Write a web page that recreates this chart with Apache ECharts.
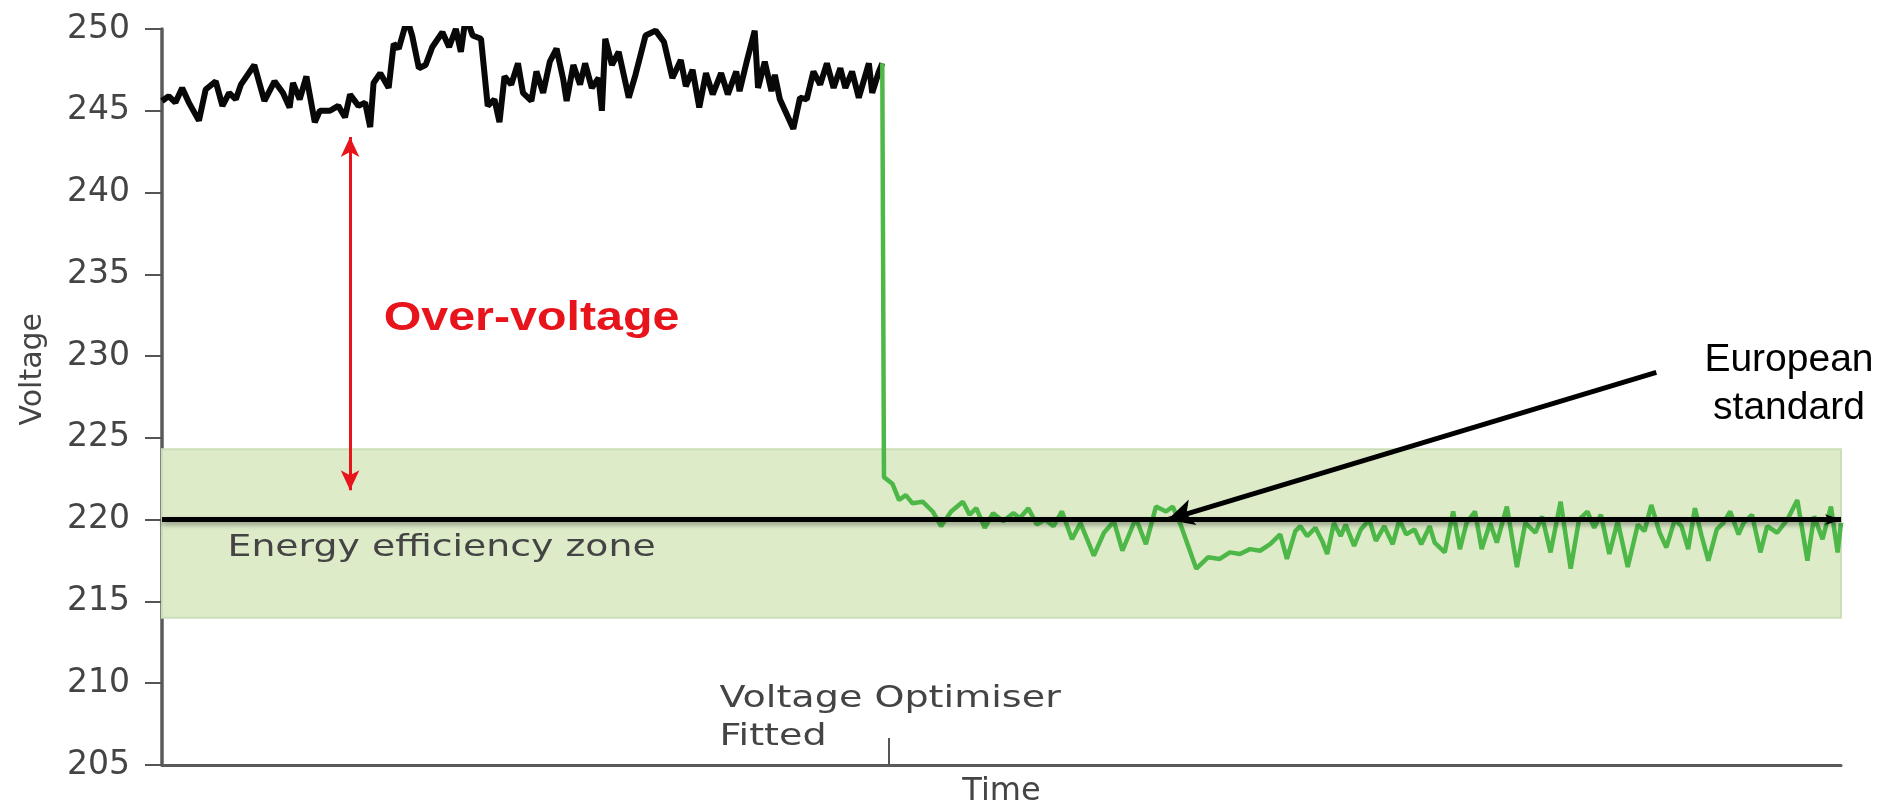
<!DOCTYPE html>
<html>
<head>
<meta charset="UTF-8">
<title>Voltage optimiser</title>
<script src="https://cdn.jsdelivr.net/npm/echarts@6/dist/echarts.min.js"></script>
<style>html,body{margin:0;padding:0;background:#fff;}</style>
</head>
<body>
<div id="main" style="width:1889px;height:803px;"></div>
<script type="text/javascript">
// time is just a 0..100 scale along the x axis (no labels in the original)
var beforeTime = [0, 0.4, 0.8, 1.2, 1.6, 2.2, 2.6, 3.2, 3.6, 4.0, 4.4, 4.7, 5.5, 6.1, 6.7, 7.2, 7.6, 7.8, 8.2, 8.6,
  9.1, 9.4, 10.0, 10.5, 10.9, 11.2, 11.7, 12.1, 12.4, 12.6, 13.0, 13.5, 13.8, 14.1, 14.6, 14.9, 15.3, 15.7, 16.1, 16.7,
  17.1, 17.5, 17.8, 18.1, 18.5, 19.0, 19.4, 19.8, 20.1, 20.4, 20.8, 21.2, 21.5, 22.0, 22.3, 22.7, 23.1, 23.5, 23.9, 24.1,
  24.5, 24.9, 25.2, 25.6, 26.0, 26.2, 26.4, 26.8, 27.2, 27.8, 28.2, 28.8, 29.4, 29.9, 30.4, 30.9, 31.2, 31.6, 32.0, 32.4,
  32.8, 33.3, 33.7, 34.2, 34.4, 34.8, 35.3, 35.5, 35.9, 36.3, 36.5, 36.8, 37.2, 37.6, 38.0, 38.4, 38.8, 39.2, 39.6, 40.0,
  40.4, 40.7, 41.1, 41.5, 42.1, 42.3, 42.7, 42.9];
var beforeVolt = [245.6, 245.9, 245.5, 246.4, 245.5, 244.4, 246.3, 246.8, 245.3, 246.1, 245.7, 246.6, 247.8, 245.6, 246.8, 246.1, 245.2, 246.7, 245.7, 247.1,
  244.3, 245.0, 245.0, 245.3, 244.6, 246.0, 245.3, 245.5, 244.0, 246.7, 247.3, 246.4, 249.1, 248.8, 250.6, 249.6, 247.6, 247.8, 248.9, 249.8,
  248.9, 250.0, 248.6, 250.8, 249.6, 249.4, 245.3, 245.7, 244.3, 247.1, 246.6, 247.9, 246.1, 245.6, 247.4, 246.1, 248.0, 248.8, 246.9, 245.6,
  247.8, 246.6, 247.9, 246.4, 247.0, 245.0, 249.4, 247.8, 248.6, 245.8, 247.2, 249.6, 249.9, 249.2, 247.0, 248.1, 246.5, 247.5, 245.2, 247.3,
  246.0, 247.3, 246.0, 247.4, 246.2, 247.9, 249.9, 246.4, 248.0, 246.2, 247.2, 245.7, 244.8, 243.9, 245.8, 245.7, 247.4, 246.6, 247.9, 246.4,
  247.6, 246.4, 247.4, 245.8, 247.9, 246.1, 247.4, 247.9];

var afterTime = [42.9, 43.0, 43.5, 43.9, 44.3, 44.7, 45.3, 45.9, 46.4, 47.0, 47.7, 48.1, 48.5, 49.0, 49.5, 50.1, 50.7, 51.1, 51.6, 52.1,
  52.6, 53.1, 53.6, 54.2, 54.7, 55.5, 56.1, 56.7, 57.2, 58.0, 58.6, 59.2, 59.8, 60.2, 60.7, 61.6, 62.3, 63.0, 63.6, 64.2,
  64.8, 65.4, 66.0, 66.6, 67.0, 67.5, 67.8, 68.2, 68.7, 69.1, 69.4, 69.8, 70.2, 70.5, 71.0, 71.4, 71.9, 72.3, 72.8, 73.3,
  73.7, 74.1, 74.6, 75.0, 75.5, 75.8, 76.4, 76.9, 77.3, 77.7, 78.2, 78.6, 79.1, 79.5, 80.1, 80.7, 81.2, 81.8, 82.2, 82.7,
  83.3, 83.9, 84.4, 84.9, 85.3, 85.7, 86.2, 86.7, 87.3, 87.9, 88.3, 88.7, 89.2, 89.6, 90.1, 90.5, 90.9, 91.3, 91.7, 92.1,
  92.6, 93.0, 93.4, 93.9, 94.2, 94.7, 95.2, 95.6, 96.2, 96.8, 97.4, 98.0, 98.4, 98.9, 99.4, 99.8, 100];
var afterVolt = [247.9, 222.6, 222.2, 221.2, 221.5, 221.0, 221.1, 220.5, 219.6, 220.5, 221.1, 220.3, 220.7, 219.5, 220.4, 219.9, 220.4, 220.1, 220.7, 219.7,
  220.0, 219.6, 220.5, 218.8, 219.8, 217.8, 219.2, 219.9, 218.1, 220.1, 218.5, 220.8, 220.5, 220.8, 219.6, 217.0, 217.7, 217.6, 218.0, 217.9,
  218.2, 218.1, 218.5, 219.1, 217.6, 219.3, 219.6, 219.0, 219.5, 218.7, 217.9, 219.8, 219.0, 219.7, 218.4, 219.4, 220.0, 218.7, 219.6, 218.5,
  220.0, 219.1, 219.4, 218.5, 219.6, 218.6, 218.0, 220.5, 218.2, 219.8, 220.5, 218.2, 219.8, 218.6, 220.8, 217.1, 219.8, 219.2, 220.2, 218.0,
  221.1, 217.0, 220.0, 220.5, 219.5, 220.3, 217.9, 219.9, 217.1, 219.7, 219.3, 220.9, 219.2, 218.3, 220.0, 219.6, 218.2, 220.7, 219.0, 217.5,
  219.4, 219.8, 220.5, 219.1, 219.8, 220.3, 218.0, 219.6, 219.2, 220.0, 221.2, 217.5, 220.2, 218.8, 220.8, 218.0, 219.8];

var zoneVolt = [214.0, 224.3];
var standardVolt = 220;
var fittedTime = [43.3];
var overArrow = [[11.2, 243.4], [11.2, 221.8]];
var standardArrow = [[89.0, 229.0], [59.9, 220.0]];

var myChart = echarts.init(document.getElementById('main'));

function pairs(xs, ys) {
  return xs.map(function (x, i) { return [x, ys[i]]; });
}

var option = {
  animation: false,
  backgroundColor: '#fff',
  grid: { left: 162, right: 48, top: 29, bottom: 38, outerBoundsMode: 'none', containLabel: false },
  xAxis: {
    type: 'value', min: 0, max: 100,
    name: 'Time', nameLocation: 'middle', nameGap: 11,
    nameTextStyle: { fontFamily: 'DejaVu Sans', fontSize: 32, color: '#444', verticalAlign: 'top' },
    axisLine: { show: true, lineStyle: { color: '#5a5a5a', width: 3 } },
    axisTick: { show: true, customValues: fittedTime, inside: true, length: 27, lineStyle: { color: '#555', width: 2 } },
    axisLabel: { show: false },
    splitLine: { show: false }
  },
  yAxis: {
    type: 'value', min: 205, max: 250, interval: 5,
    axisLine: { show: true, lineStyle: { color: '#5a5a5a', width: 3.5 } },
    axisTick: { show: true, length: 17, lineStyle: { color: '#555', width: 2 } },
    axisLabel: { margin: 32, fontFamily: 'DejaVu Sans', fontSize: 33, color: '#444' },
    splitLine: { show: false }
  },
  series: [
    {
      name: 'zone', type: 'line', data: [], z: 1, silent: true,
      markArea: {
        silent: true,
        itemStyle: { color: '#ddebc8', borderColor: '#cbdeb8', borderWidth: 2 },
        data: [[{ yAxis: zoneVolt[0] }, { yAxis: zoneVolt[1] }]]
      }
    },
    {
      name: 'Before', type: 'line', data: pairs(beforeTime, beforeVolt), z: 2,
      showSymbol: false, lineStyle: { color: '#080808', width: 6 }
    },
    {
      name: 'After', type: 'line', data: pairs(afterTime, afterVolt), z: 3,
      showSymbol: false, lineStyle: { color: '#4db848', width: 4.5 }
    },
    {
      name: 'standard', type: 'line', data: [], z: 5, silent: true,
      markLine: {
        silent: true, animation: false,
        label: { show: false },
        data: [
          { yAxis: standardVolt, symbol: 'none',
            lineStyle: { color: '#000', width: 5, type: 'solid', shadowColor: 'rgba(0,0,0,0.35)', shadowBlur: 5, shadowOffsetY: 3 } },
          [
            { coord: standardArrow[0], symbol: 'none', lineStyle: { color: '#000', width: 5, type: 'solid' } },
            { coord: standardArrow[1], symbol: 'arrow', symbolSize: [20, 26] }
          ]
        ]
      }
    },
    {
      name: 'over', type: 'line', data: [], z: 5, silent: true,
      markLine: {
        silent: true, animation: false,
        symbol: ['arrow', 'arrow'], symbolSize: [14, 20],
        label: { show: false },
        lineStyle: { color: '#e8141c', width: 3, type: 'solid' },
        data: [[{ coord: overArrow[0] }, { coord: overArrow[1] }]]
      }
    }
  ]
};
myChart.setOption(option);

function px(t, v) { return myChart.convertToPixel({ gridIndex: 0 }, [t, v]); }

var pZone = px(3.9, 218.3);
var pFit = px(33.2, 210.2);
var pOver = px(13.2, 232.3);
var pEu = px(96.9, 228.3);
var pVolt = px(0, 229.2);

myChart.setOption({
  graphic: [
    { type: 'text', x: pZone[0], y: pZone[1], scaleX: 1.22, z: 10,
      style: { text: 'Energy efficiency zone', fontFamily: 'DejaVu Sans', fontSize: 31, fill: '#444',
        textAlign: 'left', textVerticalAlign: 'middle', align: 'left', verticalAlign: 'middle' } },
    { type: 'text', x: pFit[0], y: pFit[1], scaleX: 1.27, z: 10,
      style: { text: 'Voltage Optimiser\nFitted', fontFamily: 'DejaVu Sans', fontSize: 30, lineHeight: 38, fill: '#444',
        textAlign: 'left', textVerticalAlign: 'top', align: 'left', verticalAlign: 'top' } },
    { type: 'text', x: pOver[0], y: pOver[1], scaleX: 1.18, z: 10,
      style: { text: 'Over-voltage', fontFamily: 'Liberation Sans', fontWeight: 'bold', fontSize: 41, fill: '#e8141c',
        textAlign: 'left', textVerticalAlign: 'middle', align: 'left', verticalAlign: 'middle' } },
    { type: 'text', x: pEu[0], y: pEu[1], z: 10,
      style: { text: 'European\nstandard', fontFamily: 'Liberation Sans', fontSize: 39, lineHeight: 48, fill: '#000',
        textAlign: 'center', textVerticalAlign: 'middle', align: 'center', verticalAlign: 'middle' } },
    { type: 'text', x: pVolt[0] - 129, y: pVolt[1], rotation: Math.PI / 2, z: 10,
      style: { text: 'Voltage', fontFamily: 'DejaVu Sans', fontSize: 30, fill: '#444',
        textAlign: 'center', textVerticalAlign: 'middle', align: 'center', verticalAlign: 'middle' } }
  ]
});
</script>
</body>
</html>
